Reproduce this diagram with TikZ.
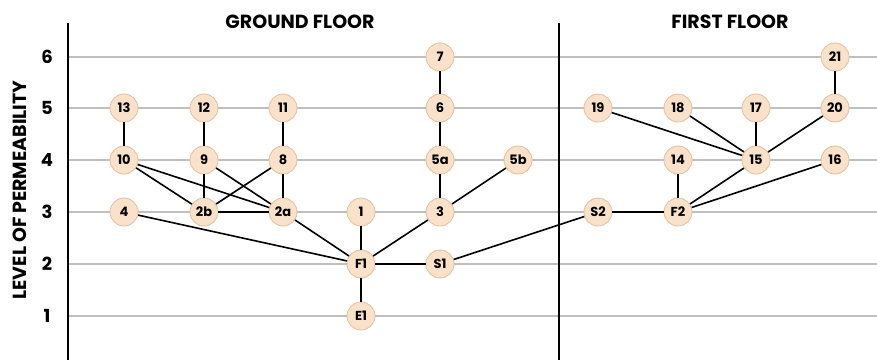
\documentclass[tikz,border=0pt]{standalone}
\usepackage{fontspec}
\setmainfont{Poppins}
\begin{document}
\begin{tikzpicture}[x=1pt,y=-1pt,
  room/.style={circle,draw=tan,line width=0.9pt,fill=peach,minimum size=28pt,inner sep=0pt,font=\fontsize{13}{13}\selectfont\bfseries},
  link/.style={line width=1.6pt,black},
  level/.style={line width=1.3pt,gray!50},
  axisline/.style={line width=1.6pt,black},
  tick/.style={font=\fontsize{18}{18}\selectfont\bfseries,anchor=center},
  title/.style={font=\fontsize{19}{19}\selectfont\bfseries}]
\definecolor{peach}{RGB}{250,226,202}
\definecolor{tan}{RGB}{228,194,164}
\useasboundingbox (0,0) rectangle (877,360);
% permeability levels
\foreach \l/\y in {6/57,5/108,4/160,3/212,2/264,1/316}{
  \coordinate (L\l a) at (68,\y);
  \coordinate (L\l b) at (877,\y);
  \draw[level] (L\l a) -- (L\l b);
  \node[tick] (T\l) at (47,\y) {\l};
}
% axis and floor divider
\coordinate (ax0) at (68,23); \coordinate (ax1) at (68,360);
\coordinate (dv0) at (559,23); \coordinate (dv1) at (559,360);
\draw[axisline] (ax0) -- (ax1);
\draw[axisline] (dv0) -- (dv1);
\node[font=\fontsize{19}{19}\selectfont\bfseries,rotate=90] (ylab) at (20,190) {LEVEL OF PERMEABILITY};
\node[title] (gf) at (300,22) {GROUND FLOOR};
\node[title] (ff) at (730,22) {FIRST FLOOR};
% ground floor rooms
\node[room] (n13) at (124,108) {13};
\node[room] (n10) at (124,160) {10};
\node[room] (n4)  at (124,212) {4};
\node[room] (n12) at (204,108) {12};
\node[room] (n9)  at (204,160) {9};
\node[room] (n2b) at (204,212) {2b};
\node[room] (n11) at (283,108) {11};
\node[room] (n8)  at (283,160) {8};
\node[room] (n2a) at (283,212) {2a};
\node[room] (n1)  at (361,212) {1};
\node[room] (F1)  at (361,264) {F1};
\node[room] (E1)  at (361,316) {E1};
\node[room] (n7)  at (440,57) {7};
\node[room] (n6)  at (440,108) {6};
\node[room] (n5a) at (440,160) {5a};
\node[room] (n3)  at (440,212) {3};
\node[room] (S1)  at (440,264) {S1};
\node[room] (n5b) at (518,160) {5b};
% first floor rooms
\node[room] (S2)  at (598,212) {S2};
\node[room] (n19) at (598,108) {19};
\node[room] (n18) at (678,108) {18};
\node[room] (n14) at (678,160) {14};
\node[room] (F2)  at (678,212) {F2};
\node[room] (n17) at (756,108) {17};
\node[room] (n15) at (756,160) {15};
\node[room] (n21) at (835,57) {21};
\node[room] (n20) at (835,108) {20};
\node[room] (n16) at (835,160) {16};
% connections
\draw[link] (n13) -- (n10);
\draw[link] (n12) -- (n9);
\draw[link] (n11) -- (n8);
\draw[link] (n10) -- (n2b);
\draw[link] (n10) -- (n2a);
\draw[link] (n9) -- (n2b);
\draw[link] (n9) -- (n2a);
\draw[link] (n8) -- (n2b);
\draw[link] (n8) -- (n2a);
\draw[link] (n2b) -- (n2a);
\draw[link] (n2a) -- (F1);
\draw[link] (n4) -- (F1);
\draw[link] (n1) -- (F1);
\draw[link] (F1) -- (E1);
\draw[link] (F1) -- (S1);
\draw[link] (F1) -- (n3);
\draw[link] (n3) -- (n5a);
\draw[link] (n3) -- (n5b);
\draw[link] (n5a) -- (n6);
\draw[link] (n6) -- (n7);
\draw[link] (S1) -- (S2);
\draw[link] (S2) -- (F2);
\draw[link] (F2) -- (n14);
\draw[link] (F2) -- (n15);
\draw[link] (F2) -- (n16);
\draw[link] (n15) -- (n19);
\draw[link] (n15) -- (n18);
\draw[link] (n15) -- (n17);
\draw[link] (n15) -- (n20);
\draw[link] (n20) -- (n21);
\end{tikzpicture}
\end{document}
